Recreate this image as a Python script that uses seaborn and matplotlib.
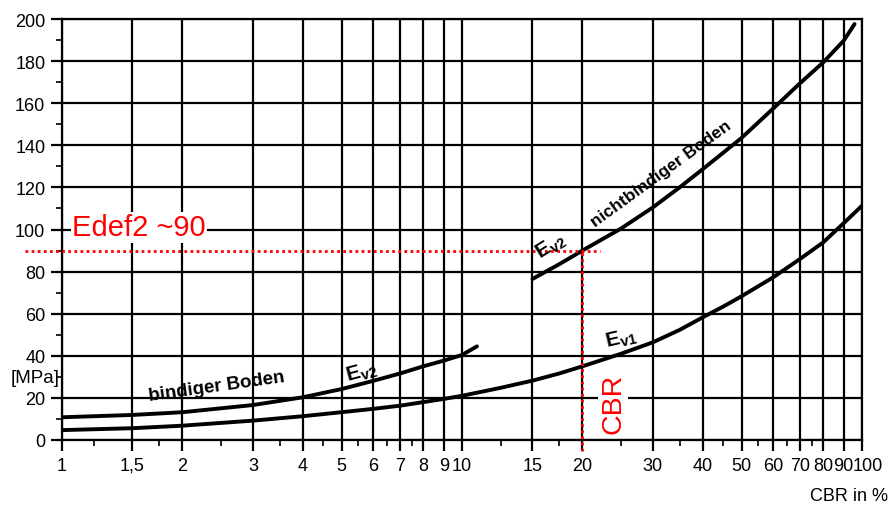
import matplotlib

matplotlib.use("Agg")
import matplotlib.pyplot as plt
import numpy as np
import pandas as pd
import seaborn as sns
from matplotlib.ticker import FixedLocator, FixedFormatter, NullFormatter

# Ev2 curve, cohesive soil (bindiger Boden)
ev2_bind_cbr = [1, 1.5, 2, 3, 4, 5, 6, 7, 8, 9, 10, 10.9]
ev2_bind_mpa = [10.8, 11.9, 13.2, 16.6, 20.3, 24.2, 28.1, 31.6, 35.0, 37.7, 40.4, 44.5]

# Ev1 curve
ev1_cbr = [1, 1.5, 2, 3, 4, 5, 6, 7, 8, 9, 10, 12.5, 15, 17.5, 20, 25, 30, 35, 40, 45,
           50, 60, 70, 80, 90, 100]
ev1_mpa = [4.7, 5.6, 6.8, 9.2, 11.3, 13.2, 14.8, 16.3, 18.0, 19.5, 21.0, 24.8, 28.2, 31.6,
           35.0, 41.0, 46.4, 52.3, 58.3, 63.4, 68.3, 77.3, 86.0, 93.9, 103.0, 111.3]

# Ev2 curve, non-cohesive soil (nichtbindiger Boden)
ev2_nb_cbr = [15, 17.5, 20, 25, 30, 35, 40, 45, 50, 60, 70, 80, 90, 95.8]
ev2_nb_mpa = [76.5, 83.5, 90, 100.5, 110.5, 120, 128.7, 136.5, 143.5, 157.5, 169.5,
              179.4, 189.7, 197.6]

x_major = [1, 1.5, 2, 3, 4, 5, 6, 7, 8, 9, 10, 15, 20, 30, 40, 50, 60, 70, 80, 90, 100]
x_labels = ["1", "1,5", "2", "3", "4", "5", "6", "7", "8", "9", "10", "15", "20",
            "30", "40", "50", "60", "70", "80", "90", ""]
x_last_label = "100"
x_minor = [1.2, 1.75, 2.5, 3.5, 4.5, 5.5, 6.5, 7.5, 12.5, 17.5, 25, 35, 45, 55, 65, 75]
y_major = [0, 20, 40, 60, 80, 100, 120, 140, 160, 180, 200]
y_minor = [10, 30, 50, 70, 90, 110, 130, 150, 170, 190]

edef2_value = 90
cbr_value = 20

sns.set_theme(style="ticks")
plt.rcParams["font.family"] = ["Liberation Sans", "DejaVu Sans"]

fig = plt.figure(figsize=(8.89, 5.06), dpi=100)
ax = fig.add_axes([62 / 889, 1 - 441 / 506, 800 / 889, 421 / 506])

for xs, ys in [(ev2_bind_cbr, ev2_bind_mpa), (ev1_cbr, ev1_mpa), (ev2_nb_cbr, ev2_nb_mpa)]:
    df = pd.DataFrame({"CBR": xs, "E": ys})
    sns.lineplot(data=df, x="CBR", y="E", ax=ax, color="black", linewidth=2.8,
                 estimator=None, zorder=3)

ax.set_xscale("log")
ax.set_xlim(1, 100)
ax.set_ylim(0, 200)
ax.xaxis.set_major_locator(FixedLocator(x_major))
ax.xaxis.set_major_formatter(FixedFormatter(x_labels))
ax.xaxis.set_minor_locator(FixedLocator(x_minor))
ax.xaxis.set_minor_formatter(NullFormatter())
ax.yaxis.set_major_locator(FixedLocator(y_major))
ax.yaxis.set_minor_locator(FixedLocator(y_minor))
ax.grid(True, which="major", color="black", linewidth=1.6)
ax.tick_params(which="major", direction="out", length=8, width=1.6, color="black",
               labelsize=13, labelcolor="black", pad=4)
ax.tick_params(which="minor", direction="out", length=4, width=1.2, color="black")
for s in ax.spines.values():
    s.set_color("black")
    s.set_linewidth(1.6)
ax.set_xlabel("")
ax.set_ylabel("")
# the 100 label sits a little right of its line, as in the scan
ax.annotate(x_last_label, xy=(100, 0), xytext=(4.5, -12), textcoords="offset points",
            ha="center", va="top", fontsize=13, color="black", annotation_clip=False)

# red reading lines
ax.plot([0.81, 22.1], [edef2_value, edef2_value], color="red", linestyle=(0, (1, 1.2)),
        linewidth=2, clip_on=False, zorder=4)
ax.plot([cbr_value, cbr_value], [-5.2, edef2_value], color="red", linestyle=(0, (1, 1.2)),
        linewidth=2, clip_on=False, zorder=4)
ax.text(1.06, 101, "Edef2 ~90", color="red", fontsize=21, ha="left", va="center",
        zorder=5, bbox=dict(facecolor="white", edgecolor="none", pad=1))
ax.text(23.9, 17.6, "CBR", color="red", fontsize=20.5, rotation=90, ha="center",
        va="center", zorder=5,
        bbox=dict(facecolor="white", edgecolor="none", pad=1.5))

# curve labels
lbl = dict(fontweight="bold", color="black", ha="center", va="center", zorder=5)
ax.text(2.43, 25.8, "bindiger Boden", rotation=8, fontsize=13.5, **lbl)
ax.text(5.62, 32.5, r"E$_{\mathregular{v2}}$", rotation=15, fontsize=15, **lbl)
ax.text(16.7, 92.5, r"E$_{\mathregular{v2}}$", rotation=32, fontsize=15, **lbl)
ax.text(31.5, 127, "nichtbindiger Boden", rotation=36, fontsize=12.5, **lbl)
ax.text(25.0, 48.5, r"E$_{\mathregular{v1}}$", rotation=13, fontsize=15, **lbl)

ax.text(-0.003, 29.5, "[MPa]", transform=ax.get_yaxis_transform(), ha="right",
        va="center", fontsize=13.5, color="black")
fig.text(810 / 889, 1 - 497 / 506, "CBR in %", ha="left", va="center", fontsize=13,
         color="black")

fig.savefig("out.png", dpi=100, facecolor="white")
